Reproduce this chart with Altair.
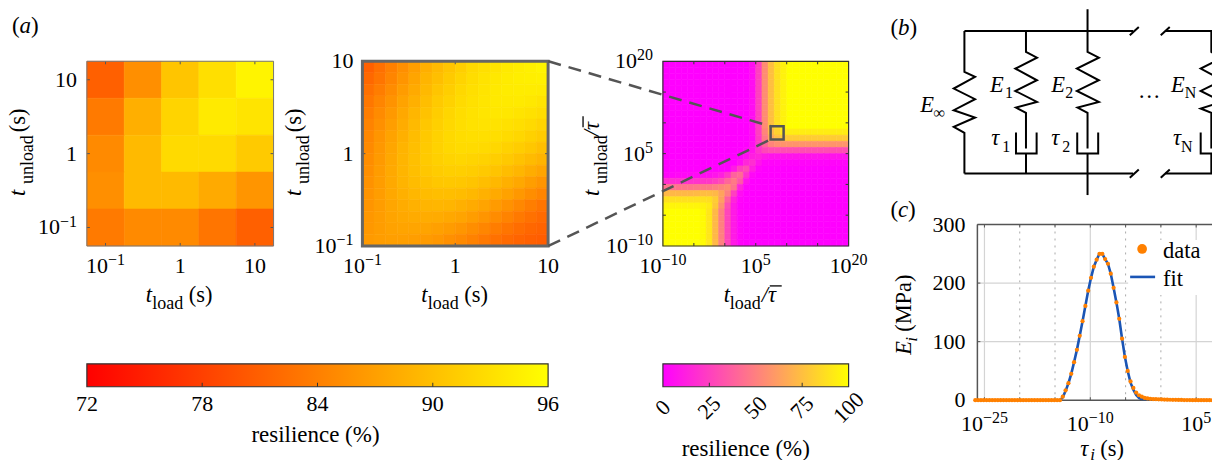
import altair as alt
import pandas as pd

FONT = "Liberation Serif"
GREY = "#555555"

# ---------- values ----------
a1_values = [
    [81.0, 85.5, 90.5, 93.0, 95.0],
    [83.5, 88.5, 92.0, 94.0, 93.5],
    [85.0, 89.5, 92.5, 92.5, 91.0],
    [85.5, 89.5, 89.5, 88.0, 86.0],
    [83.5, 85.0, 85.0, 83.0, 81.0],
]
a2_values = [
    [81, 82.5, 84, 85.5, 87, 88.5, 89.5, 90.5, 91.5, 92.5, 93, 93.5, 94, 94.3, 94.6, 95],
    [81.8, 83, 84.5, 86, 87.5, 89, 90, 91, 92, 92.8, 93.4, 93.8, 94.2, 94.4, 94.5, 94.6],
    [82.5, 83.8, 85.2, 86.7, 88, 89.4, 90.5, 91.4, 92.3, 93, 93.5, 93.9, 94.2, 94.2, 94.2, 94.1],
    [83.2, 84.5, 85.8, 87.3, 88.6, 89.9, 91, 91.8, 92.6, 93.2, 93.6, 93.9, 94, 94, 93.8, 93.5],
    [83.8, 85.1, 86.4, 87.8, 89.1, 90.3, 91.3, 92.1, 92.8, 93.3, 93.6, 93.7, 93.7, 93.5, 93.2, 92.8],
    [84.3, 85.6, 86.9, 88.2, 89.5, 90.7, 91.6, 92.3, 92.9, 93.3, 93.4, 93.4, 93.2, 92.9, 92.5, 92],
    [84.7, 86, 87.3, 88.6, 89.8, 90.9, 91.8, 92.4, 92.8, 93, 93, 92.9, 92.6, 92.2, 91.7, 91.1],
    [85, 86.3, 87.6, 88.9, 90, 91, 91.8, 92.3, 92.6, 92.6, 92.5, 92.2, 91.8, 91.3, 90.7, 90],
    [85.3, 86.5, 87.8, 89, 90.1, 91, 91.6, 92, 92.1, 92, 91.8, 91.4, 90.9, 90.3, 89.6, 88.9],
    [85.5, 86.7, 87.9, 89, 90, 90.7, 91.2, 91.5, 91.5, 91.3, 90.9, 90.4, 89.8, 89.1, 88.3, 87.5],
    [85.7, 86.8, 87.9, 88.9, 89.7, 90.3, 90.7, 90.8, 90.7, 90.4, 89.9, 89.3, 88.6, 87.8, 86.9, 86],
    [85.9, 86.8, 87.8, 88.6, 89.2, 89.7, 89.9, 89.9, 89.7, 89.3, 88.7, 88, 87.2, 86.3, 85.4, 84.5],
    [86, 86.8, 87.6, 88.2, 88.7, 89, 89.1, 89, 88.6, 88.1, 87.4, 86.6, 85.7, 84.8, 83.9, 83],
    [86.2, 86.8, 87.4, 87.8, 88.1, 88.2, 88.1, 87.8, 87.4, 86.8, 86, 85.2, 84.3, 83.4, 82.6, 82],
    [86.3, 86.8, 87.2, 87.4, 87.5, 87.4, 87.1, 86.7, 86.1, 85.4, 84.6, 83.8, 83, 82.3, 81.7, 81.3],
    [86.5, 86.8, 87, 87, 86.9, 86.6, 86.2, 85.6, 85, 84.2, 83.4, 82.6, 82, 81.4, 81, 80.8],
]
a3_top = [0] * 14 + [5, 25, 55, 75, 88, 95] + [100] * 10
a3_bottom = [100] * 6 + [98, 90, 72, 50, 27, 10, 2] + [0] * 17
a3_values = [a3_top] * 11 + [
    [0] * 14 + [5, 25, 52, 72, 82, 90] + [93] * 10,
    [0] * 14 + [4, 23, 48, 65, 74, 78] + [80] * 10,
    [0] * 14 + [6, 22, 40, 52, 56, 58] + [58] * 10,
    [0] * 13 + [3, 8, 20, 28, 30, 30, 30] + [30] * 10,
    [0] * 13 + [5, 12, 14, 10, 8, 8, 8] + [8] * 10,
    [0] * 12 + [5, 15, 18, 8, 2, 2, 2, 2] + [2] * 10,
    [0] * 11 + [10, 25, 30, 12, 2] + [0] * 14,
    [2, 2, 3, 3, 3, 4, 5, 6, 8, 12, 22, 38, 42, 20, 3] + [0] * 15,
    [18, 18, 18, 19, 20, 20, 21, 22, 25, 30, 40, 48, 35, 8] + [0] * 16,
    [45, 45, 45, 46, 46, 47, 48, 48, 50, 52, 55, 45, 15, 2] + [0] * 16,
    [72, 72, 72, 72, 72, 73, 74, 74, 72, 64, 50, 25, 5] + [0] * 17,
    [88] * 7 + [87, 80, 62, 38, 14, 2] + [0] * 17,
    [96] * 6 + [95, 92, 78, 56, 30, 10, 1] + [0] * 17,
] + [a3_bottom] * 6

tau_log10 = [round(-26.3 + 0.4 * k, 1) for k in range(86)]
data_E = [0] * 31 + [6, 17, 29, 45, 65, 86, 110, 135, 161, 187, 209, 228, 240, 250, 250,
                     241, 233, 216, 192, 167, 139, 105, 74, 50, 32, 21, 13, 8.5, 6, 4, 3, 2.5,
                     2, 1.8, 1.5, 1.3, 1.1, 1, 0.8, 0.7, 0.6, 0.5, 0.4, 0.3, 0.2, 0.2, 0.1, 0.1,
                     0, 0, 0, 0, 0, 0, 0]
fit_E = [0] * 31 + [5, 16, 29, 45, 65, 86, 110, 135, 161, 187, 209, 228, 240, 250, 250,
                    241, 233, 216, 192, 167, 139, 105, 74, 50, 30, 18, 9, 4, 1.5, 0.4,
                    0, 0, 0, 0, 0, 0, 0, 0, 0, 0, 0, 0, 0, 0, 0, 0, 0, 0,
                    0, 0, 0, 0, 0, 0, 0]

# circuit strokes, in schematic units
circuit = [
    [(258, 92), (765, 92)], [(755, 105), (782, 80)], [(848, 105), (875, 80)],
    [(862, 92), (1000, 92), (1000, 155), (1017, 163)],
    [(258, 520), (765, 520)], [(755, 533), (782, 508)], [(848, 533), (875, 508)],
    [(862, 520), (1000, 520), (1000, 460)],
    [(258, 92), (258, 215), (290, 230), (226, 265), (290, 297), (226, 330), (290, 352), (226, 380), (258, 398), (258, 520)],
    [(443, 92), (443, 155), (476, 172), (411, 205), (476, 240), (411, 272), (476, 305), (413, 322), (443, 338), (443, 445)],
    [(413, 397), (413, 460), (475, 460), (475, 397)], [(443, 460), (443, 520)],
    [(628, 27), (628, 155), (662, 172), (596, 205), (662, 240), (596, 272), (662, 305), (598, 322), (628, 338), (628, 445)],
    [(597, 397), (597, 460), (660, 460), (660, 397)], [(628, 460), (628, 585)],
    [(1017, 180), (968, 205), (1017, 231)], [(1017, 248), (968, 272), (1017, 297)],
    [(1017, 310), (968, 325), (1000, 338), (1000, 445)],
    [(968, 397), (968, 460), (1017, 460)],
]


# ---------- helpers ----------
def txt(ox, oy, x, y, s, size=22.5, italic=False, angle=0, align="left"):
    kw = {"fontStyle": "italic"} if italic else {}
    return alt.Chart(pd.DataFrame({"s": [s]})).mark_text(
        font=FONT, fontSize=size, color="black", align=align, baseline="alphabetic",
        angle=angle, **kw
    ).encode(x=alt.value(x - ox), y=alt.value(y - oy), text="s:N")


def width_of(base, sup, size=22, sup_size=16):
    w_base = 0.5 * len(base) * size
    w_sup = sum(0.564 if ch == "\u2212" else 0.5 for ch in sup) * sup_size
    return w_base, w_sup


def xlabel(value, base, sup, scale, y, size=22, sup_size=16):
    d = pd.DataFrame({"t": [value], "s": [base], "u": [sup]})
    xx = alt.X("t:Q", scale=scale, axis=None)
    common = dict(font=FONT, color="black", baseline="alphabetic")
    if not sup:
        return alt.Chart(d).mark_text(fontSize=size, align="center", **common).encode(
            x=xx, y=alt.value(y), text="s:N")
    wb, wu = width_of(base, sup, size, sup_size)
    start = -(wb + wu) / 2
    return alt.Chart(d).mark_text(fontSize=size, align="left", dx=start, **common).encode(
        x=xx, y=alt.value(y), text="s:N") + \
        alt.Chart(d).mark_text(fontSize=sup_size, align="left", dx=start + wb, dy=-8, **common).encode(
            x=xx, y=alt.value(y), text="u:N")


def ylabel(value, base, sup, scale, x, size=22, sup_size=16):
    d = pd.DataFrame({"t": [value], "s": [base], "u": [sup]})
    yy = alt.Y("t:Q", scale=scale, axis=None)
    common = dict(font=FONT, color="black", baseline="alphabetic", align="right")
    if not sup:
        return alt.Chart(d).mark_text(fontSize=size, dy=7, **common).encode(
            x=alt.value(x), y=yy, text="s:N")
    wb, wu = width_of(base, sup, size, sup_size)
    return alt.Chart(d).mark_text(fontSize=size, dx=-wu, dy=7, **common).encode(
        x=alt.value(x), y=yy, text="s:N") + \
        alt.Chart(d).mark_text(fontSize=sup_size, dy=-1, **common).encode(
            x=alt.value(x), y=yy, text="u:N")


def heat(values, edges_x, edges_y, sx, sy, scale):
    rows = []
    for r, row in enumerate(values):
        for c, v in enumerate(row):
            rows.append({"x0": edges_x[c], "x1": edges_x[c + 1],
                         "y0": edges_y[r], "y1": edges_y[r + 1], "v": v})
    return alt.Chart(pd.DataFrame(rows)).mark_rect(strokeWidth=0.6).encode(
        x=alt.X("x0:Q", scale=sx, axis=None), x2="x1:Q",
        y=alt.Y("y0:Q", scale=sy, axis=None), y2="y1:Q",
        color=alt.Color("v:Q", scale=scale, legend=None),
        stroke=alt.Stroke("v:Q", scale=scale, legend=None),
    )


def ticks_x(vals, sx, h, n=3, color=GREY):
    d = pd.DataFrame({"t": vals})
    base = alt.Chart(d).mark_rule(color=color, strokeWidth=1)
    xx = alt.X("t:Q", scale=sx, axis=None)
    return base.encode(x=xx, y=alt.value(0), y2=alt.value(n)) + \
        base.encode(x=xx, y=alt.value(h - n), y2=alt.value(h))


def ticks_y(vals, sy, w, n=3, color=GREY):
    d = pd.DataFrame({"t": vals})
    base = alt.Chart(d).mark_rule(color=color, strokeWidth=1)
    yy = alt.Y("t:Q", scale=sy, axis=None)
    return base.encode(y=yy, x=alt.value(0), x2=alt.value(n)) + \
        base.encode(y=yy, x=alt.value(w - n), x2=alt.value(w))


def frame(w, h, color, width):
    return alt.Chart(pd.DataFrame({"a": [0]})).mark_rect(
        filled=False, stroke=color, strokeWidth=width
    ).encode(x=alt.value(0), x2=alt.value(w), y=alt.value(0), y2=alt.value(h))


def spacer(w):
    return alt.Chart(pd.DataFrame({"a": [0]})).mark_point(opacity=0).encode(
        x=alt.value(0), y=alt.value(0)).properties(width=w, height=1)


def hbar(ox, oy, x0, x1, y):
    return alt.Chart(pd.DataFrame({"a": [0]})).mark_rule(color="black", strokeWidth=1.3).encode(
        x=alt.value(x0 - ox), x2=alt.value(x1 - ox), y=alt.value(y - oy))


def vbar(ox, oy, x, y0, y1):
    return alt.Chart(pd.DataFrame({"a": [0]})).mark_rule(color="black", strokeWidth=1.3).encode(
        x=alt.value(x - ox), y=alt.value(y0 - oy), y2=alt.value(y1 - oy))


def title_load(ox, oy, shift=0):
    return [txt(ox, oy, 146 + shift, 302, "t", italic=True),
            txt(ox, oy, 152.5 + shift, 309, "load", size=18),
            txt(ox, oy, 189 + shift, 302, "(s)")]


def title_unload(ox, oy, shift=0):
    return [txt(ox, oy, 25 + shift, 196, "t", italic=True, angle=270),
            txt(ox, oy, 33 + shift, 184, "unload", size=18, angle=270),
            txt(ox, oy, 25 + shift, 132, "(s)", angle=270)]


warm = alt.Scale(domain=[72, 96], range=["#ff0000", "#ffff00"], interpolate="rgb")
cool = alt.Scale(domain=[0, 100], range=["#ff00ff", "#ffff00"], interpolate="rgb")
MINUS = "\u2212"
short_ticks = [(0.1, "10", MINUS + "1"), (1, "1", ""), (10, "10", "")]
long_ticks = [(1e-10, "10", MINUS + "10"), (1e5, "10", "5"), (1e20, "10", "20")]
H = 185

# ---------- (a) left ----------
W1, OX1, OY = 187, 87, 61
sx1 = alt.Scale(type="log", domain=[10 ** -1.25, 10 ** 1.25], nice=False)
sy1 = alt.Scale(type="log", domain=[10 ** -1.25, 10 ** 1.25], nice=False)
e1x = [10 ** (-1.25 + 0.5 * i) for i in range(6)]
e1y = [10 ** (1.25 - 0.5 * i) for i in range(6)]
a1 = alt.layer(
    heat(a1_values, e1x, e1y, sx1, sy1, warm),
    ticks_x([0.1, 1, 10], sx1, H), ticks_y([0.1, 1, 10], sy1, W1),
    frame(W1, H, "#777777", 1),
    *[xlabel(v, b, u, sx1, H + 27) for v, b, u in short_ticks],
    *[ylabel(v, b, u, sy1, -10) for v, b, u in short_ticks],
    txt(OX1, OY, 12, 33, "(", size=23), txt(OX1, OY, 19.5, 33, "a", size=23, italic=True),
    txt(OX1, OY, 31, 33, ")", size=23),
    *title_load(OX1, OY), *title_unload(OX1, OY),
).properties(width=W1, height=H)

# ---------- (a) middle ----------
W2, OX2 = 186, 363
sx2 = alt.Scale(type="log", domain=[0.1, 10], nice=False)
sy2 = alt.Scale(type="log", domain=[0.1, 10], nice=False)
e2x = [10 ** (-1 + 2 * i / 16) for i in range(17)]
e2y = [10 ** (1 - 2 * i / 16) for i in range(17)]
a2 = alt.layer(
    heat(a2_values, e2x, e2y, sx2, sy2, warm),
    ticks_x([1], sx2, H), ticks_y([1], sy2, W2),
    frame(W2, H, "#666666", 3),
    *[xlabel(v, b, u, sx2, H + 27) for v, b, u in short_ticks],
    *[ylabel(v, b, u, sy2, -9) for v, b, u in short_ticks],
    *title_load(OX2, OY, 276), *title_unload(OX2, OY, 276),
).properties(width=W2, height=H)

# ---------- (a) right ----------
W3, OX3 = 186, 664
sx3 = alt.Scale(type="log", domain=[1e-10, 1e20], nice=False)
sy3 = alt.Scale(type="log", domain=[1e-10, 1e20], nice=False)
e3x = [10.0 ** (-10 + i) for i in range(31)]
e3y = [10.0 ** (20 - i) for i in range(31)]
tick3 = [1e-5, 1, 1e5, 1e10, 1e15]
box_x0, box_x1, box_y0, box_y1 = 10 ** 7.4, 10 ** 9.5, 10 ** 7.3, 10 ** 9.45
left_far = 10 ** -28.5
links = pd.DataFrame({
    "x": [left_far, box_x0, left_far, box_x0],
    "y": [1e20, box_y1, 1e-10, box_y0],
    "g": ["top", "top", "bottom", "bottom"],
})
square = pd.DataFrame({"x0": [box_x0], "x1": [box_x1], "y0": [box_y0], "y1": [box_y1]})
a3 = alt.layer(
    heat(a3_values, e3x, e3y, sx3, sy3, cool),
    ticks_x(tick3, sx3, H, color="#333333"), ticks_y(tick3, sy3, W3, color="#333333"),
    frame(W3, H, "#333333", 1.2),
    *[xlabel(v, b, u, sx3, H + 27) for v, b, u in long_ticks],
    *[ylabel(v, b, u, sy3, -10) for v, b, u in long_ticks],
    alt.Chart(links).mark_line(color=GREY, strokeWidth=2.5, strokeDash=[13, 8]).encode(
        x=alt.X("x:Q", scale=sx3, axis=None), y=alt.Y("y:Q", scale=sy3, axis=None), detail="g:N"),
    alt.Chart(square).mark_rect(filled=False, stroke=GREY, strokeWidth=2.5).encode(
        x=alt.X("x0:Q", scale=sx3, axis=None), x2="x1:Q",
        y=alt.Y("y0:Q", scale=sy3, axis=None), y2="y1:Q"),
    txt(OX3, OY, 725, 302, "t", italic=True), txt(OX3, OY, 731, 309, "load", size=18),
    txt(OX3, OY, 763, 302, "/\u03c4", italic=True), hbar(OX3, OY, 771, 783, 286),
    txt(OX3, OY, 600, 196, "t", italic=True, angle=270),
    txt(OX3, OY, 608, 184, "unload", size=18, angle=270),
    txt(OX3, OY, 600, 136, "/\u03c4", italic=True, angle=270), vbar(OX3, OY, 584, 116, 127),
).properties(width=W3, height=H)

# ---------- (b) circuit ----------
OXB = 850
pts = [{"x": x, "y": y, "g": g, "o": o}
       for g, stroke in enumerate(circuit) for o, (x, y) in enumerate(stroke)]
sxb = alt.Scale(domain=[-90, 1017], range=[0, 369], nice=False, zero=False)
syb = alt.Scale(domain=[738, 183], nice=False, zero=False)
b = alt.layer(
    alt.Chart(pd.DataFrame(pts)).mark_line(color="black", strokeWidth=2, clip=False).encode(
        x=alt.X("x:Q", scale=sxb, axis=None), y=alt.Y("y:Q", scale=syb, axis=None),
        detail="g:N", order="o:Q"),
    txt(OXB, OY, 892, 35, "(", size=23), txt(OXB, OY, 899.5, 35, "b", size=23, italic=True),
    txt(OXB, OY, 911, 35, ")", size=23),
    txt(OXB, OY, 921.7, 111.7, "E", italic=True), txt(OXB, OY, 935, 118, "\u221e", size=16, italic=True),
    txt(OXB, OY, 991.7, 91.7, "E", italic=True), txt(OXB, OY, 1006.7, 98, "1", size=16),
    txt(OXB, OY, 993, 145, "\u03c4", italic=True), txt(OXB, OY, 1004, 152, "1", size=16),
    txt(OXB, OY, 1053, 91.7, "E", italic=True), txt(OXB, OY, 1067, 98, "2", size=16),
    txt(OXB, OY, 1053, 145, "\u03c4", italic=True), txt(OXB, OY, 1064, 152, "2", size=16),
    txt(OXB, OY, 1173, 91.7, "E", italic=True), txt(OXB, OY, 1186.7, 98, "N", size=16),
    txt(OXB, OY, 1175, 145, "\u03c4", italic=True), txt(OXB, OY, 1183, 152, "N", size=16),
    txt(OXB, OY, 1140, 98, "\u2026"),
).properties(width=129, height=H)


# ---------- colour bars ----------
def bar(lo, hi, stops, w, declared, tick_vals, lab_vals, ox, tx, ty, angle=None):
    ROW_Y = 224.5
    hb = 162.5
    sx = alt.Scale(domain=[lo, hi], range=[0, w], nice=False, zero=False)
    grad = alt.Gradient(gradient="linear", x1=0, x2=1, y1=0, y2=0,
                        stops=[alt.GradientStop(color=stops[0], offset=0),
                               alt.GradientStop(color=stops[1], offset=1)])
    labs = pd.DataFrame({"t": lab_vals, "s": [str(v) for v in lab_vals]})
    if angle is None:
        lab = alt.Chart(labs).mark_text(font=FONT, fontSize=22, color="black", align="center",
                                        baseline="alphabetic").encode(
            x=alt.X("t:Q", scale=sx, axis=None), y=alt.value(hb + 24), text="s:N")
    else:
        lab = alt.Chart(labs).mark_text(font=FONT, fontSize=22, color="black", align="center",
                                        baseline="middle", angle=angle).encode(
            x=alt.X("t:Q", scale=sx, axis=None), y=alt.value(hb + 21), text="s:N")
    return alt.layer(
        alt.Chart(pd.DataFrame({"a": [lo], "b": [hi]})).mark_rect(
            fill=grad, stroke="#333333", strokeWidth=1.2
        ).encode(x=alt.X("a:Q", scale=sx, axis=None), x2="b:Q",
                 y=alt.value(hb - 23), y2=alt.value(hb)),
        alt.Chart(pd.DataFrame({"t": tick_vals})).mark_rule(color="#333333").encode(
            x=alt.X("t:Q", scale=sx, axis=None), y=alt.value(hb - 4), y2=alt.value(hb)),
        lab,
        txt(ox, ROW_Y, tx, ty, "resilience (%)", size=23, align="center"),
    ).properties(width=declared, height=hb)


cb1_ticks = [78, 84, 90]
cb1_labels = [72, 78, 84, 90, 96]
cb2_ticks = [25, 75]
cb2_labels = [0, 25, 50, 75, 100]
cb1 = bar(72, 96, ["#ff0000", "#ffff00"], 462, W1, cb1_ticks, cb1_labels, 87, 316, 442)
cb2 = bar(0, 100, ["#ff00ff", "#ffff00"], 186, W3, cb2_ticks, cb2_labels, 664, 747, 456, angle=315)

# ---------- (c) ----------
WC, HC, OXC, OYC = 240, 176, 979, 224.5
sxc = alt.Scale(type="log", domain=[1e-26, 10 ** 7.95], nice=False)
syc = alt.Scale(domain=[0, 300], nice=False, zero=True)
taus = [10.0 ** t for t in tau_log10]
curve = pd.DataFrame({"tau": taus, "data": data_E, "fit": fit_E})
solid_x, dotted_x = [1e-25, 1e-10, 1e5], [1e-20, 1e-15, 1e-5, 1.0]
grid_y = [100, 200]
c = alt.layer(
    alt.Chart(pd.DataFrame({"t": solid_x})).mark_rule(color="#d4d4d4", strokeWidth=1.2).encode(
        x=alt.X("t:Q", scale=sxc, axis=None)),
    alt.Chart(pd.DataFrame({"t": dotted_x})).mark_rule(color="#aaaaaa", strokeWidth=1, strokeDash=[2, 5]).encode(
        x=alt.X("t:Q", scale=sxc, axis=None)),
    alt.Chart(pd.DataFrame({"t": grid_y})).mark_rule(color="#d4d4d4", strokeWidth=1.2).encode(
        y=alt.Y("t:Q", scale=syc, axis=None)),
    ticks_x(solid_x + dotted_x, sxc, HC),
    alt.Chart(pd.DataFrame({"t": [100, 200, 300]})).mark_rule(color=GREY).encode(
        y=alt.Y("t:Q", scale=syc, axis=None), x=alt.value(0), x2=alt.value(3)),
    alt.Chart(pd.DataFrame({"a": [0]})).mark_rect(fill="white").encode(
        x=alt.value(1130 - OXC), x2=alt.value(WC), y=alt.value(240 - OYC), y2=alt.value(295 - OYC)),
    alt.Chart(pd.DataFrame({"a": [0]})).mark_rule(color=GREY, strokeWidth=1.5).encode(
        x=alt.value(0), x2=alt.value(WC), y=alt.value(0)),
    alt.Chart(pd.DataFrame({"a": [0]})).mark_rule(color=GREY, strokeWidth=1.5).encode(
        x=alt.value(0), x2=alt.value(WC), y=alt.value(HC)),
    alt.Chart(pd.DataFrame({"a": [0]})).mark_rule(color=GREY, strokeWidth=1.5).encode(
        x=alt.value(0), y=alt.value(0), y2=alt.value(HC)),
    alt.Chart(curve).mark_line(color="#1a55b5", strokeWidth=2.6, clip=True).encode(
        x=alt.X("tau:Q", scale=sxc, axis=None), y=alt.Y("fit:Q", scale=syc, axis=None)),
    alt.Chart(curve).mark_circle(color="#ff8000", size=18, opacity=1).encode(
        x=alt.X("tau:Q", scale=sxc, axis=None), y=alt.Y("data:Q", scale=syc, axis=None)),
    alt.Chart(pd.DataFrame({"a": [0]})).mark_circle(color="#ff8000", size=95, opacity=1).encode(
        x=alt.value(1144 - OXC), y=alt.value(249 - OYC)),
    alt.Chart(pd.DataFrame({"a": [0]})).mark_rule(color="#1a55b5", strokeWidth=2.6).encode(
        x=alt.value(1132 - OXC), x2=alt.value(1157 - OXC), y=alt.value(277 - OYC)),
    *[xlabel(v, bs, u, sxc, HC + 31) for v, bs, u in
      [(1e-25, "10", MINUS + "25"), (1e-10, "10", MINUS + "10"), (1e5, "10", "5")]],
    *[ylabel(v, str(v), "", syc, -12) for v in [0, 100, 200, 300]],
    txt(OXC, OYC, 1165, 258, "data"), txt(OXC, OYC, 1165, 286, "fit"),
    txt(OXC, OYC, 892, 217, "(", size=23), txt(OXC, OYC, 899.5, 217, "c", size=23, italic=True),
    txt(OXC, OYC, 909.5, 217, ")", size=23),
    txt(OXC, OYC, 1082, 456, "\u03c4", italic=True), txt(OXC, OYC, 1092, 460, "i", size=17, italic=True),
    txt(OXC, OYC, 1102, 456, "(s)"),
    txt(OXC, OYC, 913, 355, "E", italic=True, angle=270),
    txt(OXC, OYC, 919, 342, "i", size=17, italic=True, angle=270),
    txt(OXC, OYC, 913, 332, "(MPa)", angle=270),
).properties(width=WC, height=HC)

# ---------- page ----------
chart = alt.concat(
    a1, spacer(89), a2, spacer(115), a3, b, spacer(1),
    cb1, spacer(1), spacer(1), spacer(1), cb2, spacer(1), c,
    columns=7, spacing={"row": -21.5, "column": 0}, bounds="flush", align="none",
).resolve_scale(
    color="independent", stroke="independent",
).properties(
    padding={"left": -2, "top": -4, "right": -10, "bottom": -4}, background="white",
).configure_view(stroke="transparent")

chart.save("out.html", embed_options={"renderer": "svg", "actions": False})
